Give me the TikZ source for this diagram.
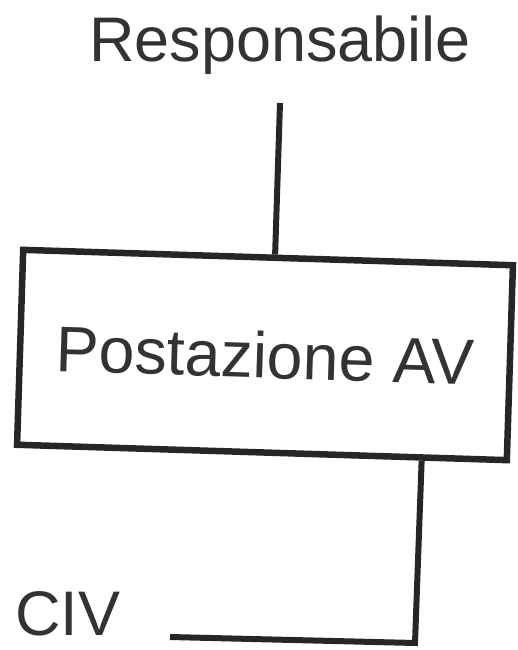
\documentclass[tikz,border=0pt]{standalone}
\usepackage{fontspec}
\setmainfont{Liberation Sans}
\usetikzlibrary{calc}
\definecolor{inkline}{HTML}{262626}
\definecolor{inktext}{HTML}{333333}
\begin{document}
\begin{tikzpicture}[x=1pt,y=1pt,
  lbl/.style={text=inktext,font=\fontsize{63}{70}\selectfont,inner sep=0pt,anchor=base},
  boxstyle/.style={draw=inkline,line width=6.5pt,minimum width=490pt,minimum height=195pt,
    inner sep=0pt,rotate=-1.8,text=inktext,font=\fontsize{64.5}{70}\selectfont},
  wire/.style={draw=inkline,line width=6pt}]
\useasboundingbox (0,0) rectangle (517,650);
\node[lbl] (resp) at (280,588) {Responsabile};
\node[boxstyle] (box) at (265,295) {Postazione AV};
\node[lbl] (civ) at (68,14) {CIV};
\coordinate (rtop) at (280,547);
\coordinate (corner) at (415,7);
\coordinate (civend) at (170,13);
\draw[wire] (rtop) -- ($(box.north west)!0.514!(box.north east)$);
\draw[wire] ($(box.south west)!0.822!(box.south east)$) -- (corner) -- (civend);
\end{tikzpicture}
\end{document}
